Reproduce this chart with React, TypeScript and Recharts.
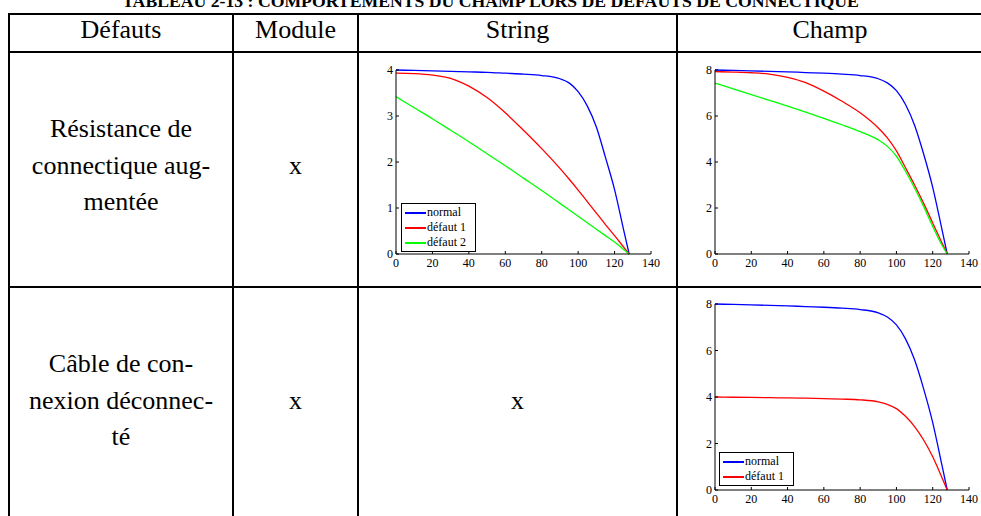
import React from 'react';
import { LineChart, Line, XAxis, YAxis, Legend } from 'recharts';

// puissance (x) sampled positions, shared by every curve
const xs = [0, 10, 20, 30, 40, 50, 60, 70, 80, 90, 95, 100, 105, 110, 115, 120, 125, 128];

// String column, row 1
const stringNormal = [4.0, 3.99, 3.98, 3.97, 3.96, 3.95, 3.93, 3.91, 3.88, 3.81, 3.72, 3.53, 3.22, 2.76, 2.1, 1.4, 0.52, 0];
const stringDefaut1 = [3.93, 3.92, 3.89, 3.82, 3.65, 3.4, 3.07, 2.69, 2.29, 1.86, 1.63, 1.39, 1.14, 0.89, 0.64, 0.4, 0.15, 0];
const stringDefaut2 = [3.42, 3.18, 2.94, 2.69, 2.44, 2.18, 1.92, 1.65, 1.38, 1.1, 0.96, 0.82, 0.68, 0.54, 0.4, 0.26, 0.1, 0];

// Champ column, row 1
const champNormal = [8.0, 7.98, 7.96, 7.94, 7.92, 7.89, 7.86, 7.82, 7.76, 7.62, 7.44, 7.1, 6.5, 5.6, 4.35, 2.9, 1.1, 0];
const champDefaut1 = [7.93, 7.91, 7.88, 7.82, 7.68, 7.45, 7.08, 6.64, 6.14, 5.48, 5.05, 4.48, 3.75, 3.0, 2.2, 1.35, 0.5, 0];
const champDefaut2 = [7.43, 7.18, 6.93, 6.68, 6.43, 6.17, 5.9, 5.62, 5.32, 4.96, 4.68, 4.25, 3.6, 2.87, 2.07, 1.2, 0.4, 0];

// Champ column, row 2 (câble déconnecté)
const cableDefaut1 = [4.0, 3.99, 3.98, 3.97, 3.96, 3.95, 3.93, 3.91, 3.88, 3.79, 3.68, 3.5, 3.17, 2.73, 2.15, 1.43, 0.55, 0];

const xTicks = [0, 20, 40, 60, 80, 100, 120, 140];
const yTicks4 = [0, 1, 2, 3, 4];
const yTicks8 = [0, 2, 4, 6, 8];

const headers = ['Défauts', 'Module', 'String', 'Champ'];
const row1Label = ['Résistance de', 'connectique aug-', 'mentée'];
const row2Label = ['Câble de con-', 'nexion déconnec-', 'té'];

const title = 'TABLEAU 2-13 : COMPORTEMENTS DU CHAMP LORS DE DEFAUTS DE CONNECTIQUE';

const stringData = xs.map((x, i) => ({ x, normal: stringNormal[i], d1: stringDefaut1[i], d2: stringDefaut2[i] }));
const champData = xs.map((x, i) => ({ x, normal: champNormal[i], d1: champDefaut1[i], d2: champDefaut2[i] }));
const cableData = xs.map((x, i) => ({ x, normal: champNormal[i], d1: cableDefaut1[i] }));

const serif = "'Liberation Serif', 'DejaVu Serif', serif";

const series = [
  { key: 'normal', name: 'normal', color: '#0000ff' },
  { key: 'd1', name: 'défaut 1', color: '#ff0000' },
  { key: 'd2', name: 'défaut 2', color: '#00ff00' },
];

const XTick = (props: any) => {
  const { x, y, payload } = props;
  return (
    <g>
      <line x1={x} x2={x} y1={y} y2={y - 3} stroke="#000" />
      <text x={x} y={y + 13} textAnchor="middle" fontSize={12} fontFamily={serif} fill="#000">
        {payload.value}
      </text>
    </g>
  );
};

const YTick = (props: any) => {
  const { x, y, payload } = props;
  return (
    <g>
      <line x1={x} x2={x + 3} y1={y} y2={y} stroke="#000" />
      <text x={x - 3} y={y + 4} textAnchor="end" fontSize={12} fontFamily={serif} fill="#000">
        {payload.value}
      </text>
    </g>
  );
};

const renderLegend = (props: any) => {
  const items = series.filter((s) => props.payload.some((p: any) => p.value === s.name));
  return (
    <div style={{ border: '1.5px solid #000', background: '#fff', boxSizing: 'border-box', padding: '1px 0' }}>
      {items.map((s) => (
        <div key={s.key} style={{ display: 'flex', alignItems: 'center', height: 15 }}>
          <span style={{ width: 21, height: 2, background: s.color, marginLeft: 3, marginRight: 1 }} />
          <span style={{ fontSize: 12, fontFamily: serif, lineHeight: '15px', color: '#000' }}>{s.name}</span>
        </div>
      ))}
    </div>
  );
};

function SmallChart(props: {
  data: any[];
  width: number;
  height: number;
  margin: any;
  xHeight: number;
  yMax: number;
  yTicks: number[];
  lines: { key: string; name: string; color: string }[];
  legendPos?: { left: number; top: number };
}) {
  const { data, width, height, margin, xHeight, yMax, yTicks, lines, legendPos } = props;
  return (
    <LineChart width={width} height={height} data={data} margin={margin}>
      <XAxis
        dataKey="x"
        type="number"
        domain={[0, 140]}
        ticks={xTicks}
        interval={0}
        height={xHeight}
        tickSize={0}
        tickMargin={0}
        tickLine={false}
        axisLine={{ stroke: '#000' }}
        tick={<XTick />}
      />
      <YAxis
        type="number"
        domain={[0, yMax]}
        ticks={yTicks}
        interval={0}
        width={36}
        tickSize={0}
        tickMargin={0}
        tickLine={false}
        axisLine={{ stroke: '#000' }}
        tick={<YTick />}
      />
      {lines.map((s) => (
        <Line
          key={s.key}
          type="monotone"
          dataKey={s.key}
          name={s.name}
          stroke={s.color}
          strokeWidth={1.3}
          dot={false}
          isAnimationActive={false}
        />
      ))}
      {legendPos && (
        <Legend
          layout="vertical"
          align="center"
          verticalAlign="middle"
          content={renderLegend}
          wrapperStyle={{ left: legendPos.left, top: legendPos.top, width: 75 }}
        />
      )}
    </LineChart>
  );
}

const hLine = (y: number, x1: number, x2: number) => (
  <div style={{ position: 'absolute', left: x1, top: y - 1, width: x2 - x1, height: 2, background: '#000' }} />
);
const vLine = (x: number, y1: number, y2: number) => (
  <div style={{ position: 'absolute', left: x - 1, top: y1, width: 2, height: y2 - y1, background: '#000' }} />
);

const cellText = (lines: string[], cx: number, top: number) => (
  <div
    style={{
      position: 'absolute',
      left: cx - 120,
      width: 240,
      top,
      textAlign: 'center',
      fontSize: 26,
      lineHeight: '36.7px',
      whiteSpace: 'nowrap',
    }}
  >
    {lines.map((l, i) => (
      <div key={i}>{l}</div>
    ))}
  </div>
);

export default function App() {
  return (
    <div
      style={{
        position: 'absolute',
        left: 0,
        top: 0,
        width: 981,
        height: 516,
        overflow: 'hidden',
        background: '#fff',
        fontFamily: serif,
        color: '#000',
      }}
    >
      <div
        style={{
          position: 'absolute',
          left: 0,
          width: 981,
          top: -7,
          textAlign: 'center',
          fontSize: 17.7,
          lineHeight: '17px',
          fontWeight: 'bold',
          whiteSpace: 'nowrap',
        }}
      >
        {title}
      </div>

      {hLine(14, 8, 985)}
      {hLine(52, 8, 985)}
      {hLine(287, 8, 985)}
      {vLine(9, 13, 520)}
      {vLine(233, 13, 520)}
      {vLine(358, 13, 520)}
      {vLine(677, 13, 520)}

      {cellText([headers[0]], 121, 12)}
      {cellText([headers[1]], 295.5, 12)}
      {cellText([headers[2]], 517.5, 12)}
      {cellText([headers[3]], 830, 12)}

      {cellText(row1Label, 121, 111)}
      {cellText(['x'], 295.5, 148)}
      {cellText(row2Label, 121, 346)}
      {cellText(['x'], 295.5, 383)}
      {cellText(['x'], 517.5, 383)}

      <div style={{ position: 'absolute', left: 360, top: 54 }}>
        <SmallChart
          data={stringData}
          width={317}
          height={231}
          margin={{ top: 16, right: 26, left: 0, bottom: 0 }}
          xHeight={31}
          yMax={4}
          yTicks={yTicks4}
          lines={series}
          legendPos={{ left: 41, top: 149 }}
        />
      </div>

      <div style={{ position: 'absolute', left: 679, top: 54 }}>
        <SmallChart
          data={champData}
          width={302}
          height={231}
          margin={{ top: 16, right: 12, left: 0, bottom: 0 }}
          xHeight={31}
          yMax={8}
          yTicks={yTicks8}
          lines={series}
        />
      </div>

      <div style={{ position: 'absolute', left: 679, top: 289 }}>
        <SmallChart
          data={cableData}
          width={302}
          height={227}
          margin={{ top: 15, right: 12, left: 0, bottom: 0 }}
          xHeight={26}
          yMax={8}
          yTicks={yTicks8}
          lines={series.slice(0, 2)}
          legendPos={{ left: 40, top: 163 }}
        />
      </div>
    </div>
  );
}
